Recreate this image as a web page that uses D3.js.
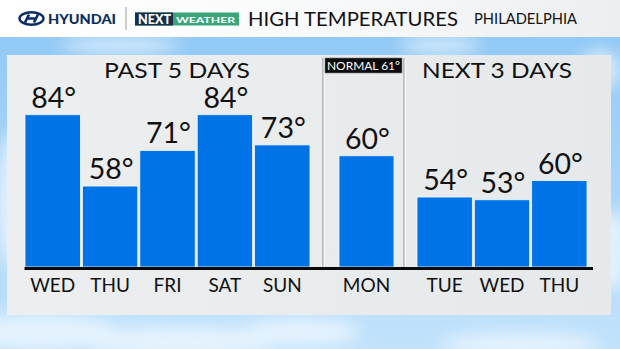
<!DOCTYPE html>
<html>
<head>
<meta charset="utf-8">
<script src="https://cdn.jsdelivr.net/npm/d3@7"></script>
<style>
  html, body { margin: 0; padding: 0; background: #fff; }
  svg { display: block; }
  text { font-family: Lato, "Open Sans", sans-serif; }
</style>
</head>
<body>
<div id="chart"></div>
<script>
const pastDays = ["WED", "THU", "FRI", "SAT", "SUN"]
const pastHighs = [84, 58, 71, 84, 73]
const todayDays = ["MON"]
const todayHighs = [60]
const nextDays = ["TUE", "WED", "THU"]
const nextHighs = [54, 53, 60]
const normalHigh = 61

const width = 620, height = 349
const baseY = 267

const svg = d3.select("#chart").append("svg")
  .attr("width", width)
  .attr("height", height)

const defs = svg.append("defs")

const sky = defs.append("linearGradient").attr("id", "sky")
  .attr("x1", 0).attr("y1", 0).attr("x2", 0).attr("y2", 1)
sky.append("stop").attr("offset", 0).attr("stop-color", "#8cc6f5")
sky.append("stop").attr("offset", 1).attr("stop-color", "#c2e2fb")

const head = defs.append("linearGradient").attr("id", "head")
head.append("stop").attr("offset", 0).attr("stop-color", "#ffffff")
head.append("stop").attr("offset", 0.6).attr("stop-color", "#f7f8f9")
head.append("stop").attr("offset", 1).attr("stop-color", "#eceef0")

const panelGrad = defs.append("linearGradient").attr("id", "panel")
panelGrad.append("stop").attr("offset", 0).attr("stop-color", "#eceeef")
panelGrad.append("stop").attr("offset", 1).attr("stop-color", "#e6e9eb")

defs.append("filter").attr("id", "blur")
  .attr("x", "-50%").attr("y", "-50%").attr("width", "200%").attr("height", "200%")
  .append("feGaussianBlur").attr("stdDeviation", 8)

// sky + clouds
svg.append("rect").attr("width", width).attr("height", height).attr("fill", "url(#sky)")
const clouds = [[40, 332, 80, 18], [180, 342, 100, 16], [300, 332, 60, 14], [15, 200, 20, 70],
  [612, 250, 20, 40], [520, 345, 80, 12], [440, 45, 40, 8], [120, 45, 60, 8], [600, 70, 20, 20]]
svg.append("g").attr("filter", "url(#blur)").attr("opacity", 0.7)
  .selectAll("ellipse").data(clouds).join("ellipse")
    .attr("cx", d => d[0]).attr("cy", d => d[1])
    .attr("rx", d => d[2]).attr("ry", d => d[3])
    .attr("fill", "#f4faff")

// header bar
svg.append("rect").attr("width", width).attr("height", 37).attr("fill", "url(#head)")

const logo = svg.append("g")
logo.append("ellipse").attr("cx", 31.5).attr("cy", 18.5).attr("rx", 12).attr("ry", 6.2)
  .attr("fill", "none").attr("stroke", "#0a2d63").attr("stroke-width", 2.4)
logo.append("path")
  .attr("d", "M25,22.5 L29,14.5 M34,22.5 L38,14.5 M27.5,18.5 L35.5,18.5")
  .attr("stroke", "#0a2d63").attr("stroke-width", 2.6).attr("fill", "none")
logo.append("text").attr("x", 48).attr("y", 23.8)
  .attr("font-size", 13).attr("font-weight", 900).attr("fill", "#0a2d63")
  .attr("textLength", 68).attr("lengthAdjust", "spacingAndGlyphs")
  .text("HYUNDAI")
svg.append("line").attr("x1", 126).attr("x2", 126).attr("y1", 7).attr("y2", 30)
  .attr("stroke", "#9aa0a6").attr("stroke-width", 1)

const nx = svg.append("g")
nx.append("rect").attr("x", 135).attr("y", 12.5).attr("width", 104).attr("height", 13).attr("fill", "#3aa57a")
nx.append("rect").attr("x", 135).attr("y", 12.5).attr("width", 38).attr("height", 13).attr("fill", "#16304a")
nx.append("text").attr("x", 138).attr("y", 24).attr("font-size", 12.5).attr("font-weight", 900)
  .attr("fill", "#fff").attr("textLength", 33).attr("lengthAdjust", "spacingAndGlyphs").text("NEXT")
nx.append("text").attr("x", 176).attr("y", 22.6).attr("font-size", 8).attr("font-weight", 700)
  .attr("fill", "#fff").attr("textLength", 59).attr("lengthAdjust", "spacingAndGlyphs").text("WEATHER")

svg.append("text").attr("x", 248).attr("y", 25.7)
  .attr("font-size", 19).attr("fill", "#111")
  .attr("textLength", 210).attr("lengthAdjust", "spacingAndGlyphs")
  .text("HIGH TEMPERATURES")
svg.append("text").attr("x", 474).attr("y", 24.3)
  .attr("font-size", 15).attr("fill", "#111")
  .attr("textLength", 103).attr("lengthAdjust", "spacingAndGlyphs")
  .text("PHILADELPHIA")

// panel
svg.append("rect").attr("x", 7).attr("y", 55).attr("width", 604).attr("height", 260)
  .attr("fill", "url(#panel)")

// scales (the middle "today" bar is drawn on its own scale, as in the graphic)
const y = d3.scaleLinear().domain([28.5, 84]).range([baseY, 114.7])
const yToday = d3.scaleLinear().domain([-5, 84]).range([baseY, 114.7])

const xPast = d3.scaleBand().domain(d3.range(pastDays.length)).range([25, 310]).paddingInner(0.035)
const xToday = d3.scaleBand().domain(d3.range(todayDays.length)).range([339, 394])
const xNext = d3.scaleBand().domain(d3.range(nextDays.length)).range([417, 587]).paddingInner(0.035)

// separators
svg.selectAll("g.sep").data([323, 404]).join("g").attr("class", "sep")
  .each(function(d) {
    const g = d3.select(this)
    g.append("line").attr("x1", d).attr("x2", d).attr("y1", 58).attr("y2", baseY)
      .attr("stroke", "#8c9094").attr("stroke-width", 1)
    g.append("line").attr("x1", d + 1.2).attr("x2", d + 1.2).attr("y1", 58).attr("y2", baseY)
      .attr("stroke", "#ffffff").attr("stroke-width", 0.8)
  })

const groups = [
  { days: pastDays, highs: pastHighs, x: xPast, y: y },
  { days: todayDays, highs: todayHighs, x: xToday, y: yToday },
  { days: nextDays, highs: nextHighs, x: xNext, y: y },
]

groups.forEach(grp => {
  const g = svg.append("g")
  g.selectAll("rect").data(grp.highs).join("rect")
    .attr("x", (d, i) => grp.x(i))
    .attr("width", grp.x.bandwidth())
    .attr("y", d => grp.y(d))
    .attr("height", d => baseY - grp.y(d))
    .attr("fill", "#0073e6")
    .attr("stroke", "#f5f7f8")
    .attr("stroke-width", 0.8)

  g.selectAll("text").data(grp.highs).join("text")
    .attr("x", (d, i) => grp.x(i) + grp.x.bandwidth() / 2 + 1)
    .attr("y", d => grp.y(d) - 7)
    .attr("text-anchor", "middle")
    .attr("font-size", 28.5)
    .attr("fill", "#111")
    .text(d => d + "°")

  const axis = d3.axisBottom(grp.x)
    .tickSize(0)
    .tickPadding(12)
    .tickFormat(i => grp.days[i])
  const ax = svg.append("g").attr("transform", `translate(0,${baseY})`).call(axis)
  ax.select(".domain").remove()
  ax.selectAll("text")
    .attr("font-family", "Lato, sans-serif")
    .attr("font-size", 19)
    .attr("fill", "#111")
})

// baseline
svg.append("line").attr("x1", 24.5).attr("x2", 593).attr("y1", baseY + 1.5).attr("y2", baseY + 1.5)
  .attr("stroke", "#0a0a0a").attr("stroke-width", 3)

// section titles
svg.append("text").attr("x", 104).attr("y", 78)
  .attr("font-size", 21.5).attr("fill", "#111")
  .attr("textLength", 146).attr("lengthAdjust", "spacingAndGlyphs").text("PAST 5 DAYS")
svg.append("text").attr("x", 422).attr("y", 78)
  .attr("font-size", 21.5).attr("fill", "#111")
  .attr("textLength", 150).attr("lengthAdjust", "spacingAndGlyphs").text("NEXT 3 DAYS")

// normal box
svg.append("rect").attr("x", 325).attr("y", 58).attr("width", 77).attr("height", 15)
  .attr("fill", "#0c0c0c").attr("stroke", "#777").attr("stroke-width", 0.6)
svg.append("text").attr("x", 327).attr("y", 69.8)
  .attr("font-size", 11.5).attr("fill", "#fff")
  .attr("textLength", 73).attr("lengthAdjust", "spacingAndGlyphs")
  .text("NORMAL " + normalHigh + "°")
</script>
</body>
</html>
